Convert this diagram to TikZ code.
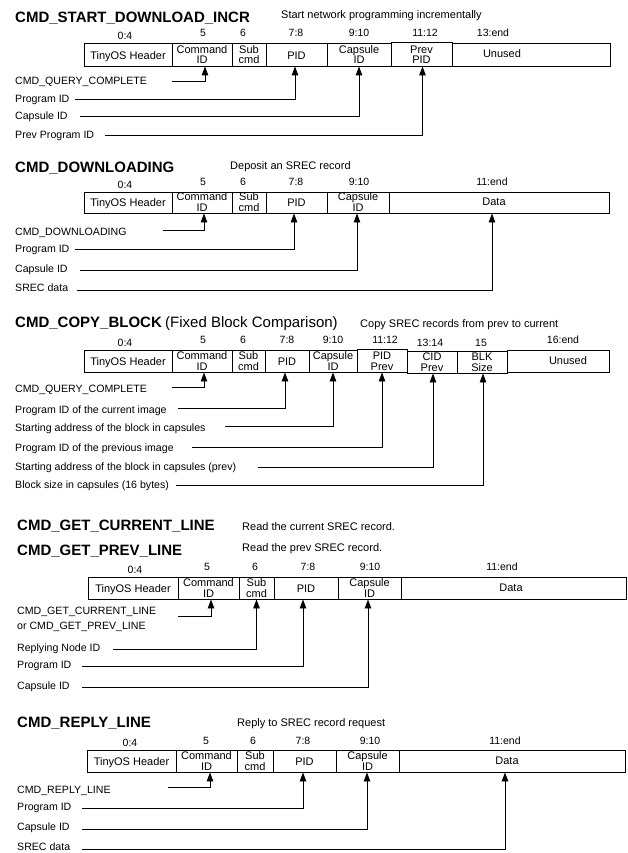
\documentclass[tikz,border=0pt]{standalone}
\usepackage{fontspec}
\setmainfont{Liberation Sans}
\usetikzlibrary{arrows.meta}
\tikzset{
  field/.style={draw, line width=0.9pt, inner sep=0pt, rectangle},
  ftext/.style={font=\fontsize{11}{12}\selectfont, inner sep=0pt},
  lbl/.style={font=\fontsize{10.6}{12}\selectfont, inner sep=0pt, anchor=base west},
  numlbl/.style={font=\fontsize{10.5}{12}\selectfont, inner sep=0pt, anchor=base},
  ttl/.style={font=\fontsize{15}{18}\selectfont\bfseries, inner sep=0pt, anchor=base west},
  subttl/.style={font=\fontsize{11}{12}\selectfont, inner sep=0pt, anchor=base west},
  paren/.style={font=\fontsize{15}{18}\selectfont, inner sep=0pt, anchor=base west},
  conn/.style={line width=0.9pt, -{Triangle[length=9pt,width=6.5pt]}},
}
% single-line field: name x1 x2 top bottom text
\newcommand\fldA[6]{%
  \node[field, minimum width={(#3-#2)*1pt}, minimum height={(#5-#4)*1pt}] (#1) at ({(#2+#3)/2},{(#4+#5)/2}) {};
  \node[ftext, anchor=base] (#1-t) at ({(#2+#3)/2},{#5-6.5}) {#6};}
% two-line field: name x1 x2 top bottom line1 line2
\newcommand\fldB[7]{%
  \node[field, minimum width={(#3-#2)*1pt}, minimum height={(#5-#4)*1pt}] (#1) at ({(#2+#3)/2},{(#4+#5)/2}) {};
  \node[ftext, anchor=base] (#1-a) at ({(#2+#3)/2},{#5-12.5}) {#6};
  \node[ftext, anchor=base] (#1-b) at ({(#2+#3)/2},{#5-2}) {#7};}
% field with text at given x: name x1 x2 top bottom textx text
\newcommand\fldX[7]{%
  \node[field, minimum width={(#3-#2)*1pt}, minimum height={(#5-#4)*1pt}] (#1) at ({(#2+#3)/2},{(#4+#5)/2}) {};
  \node[ftext, anchor=base] (#1-t) at (#6,{#5-8}) {#7};}
\begin{document}
\begin{tikzpicture}[x=1pt,y=-1pt]
\useasboundingbox (0,0) rectangle (627,853);

% ---------------- Section 1 ----------------
\node[ttl] (s1title) at (15,23) {CMD\_START\_DOWNLOAD\_INCR};
\node[subttl] (s1desc) at (281,19) {Start network programming incrementally};
\node[numlbl] (s1n1) at (125,40) {0:4};
\node[numlbl] (s1n2) at (203,37) {5};
\node[numlbl] (s1n3) at (243,37) {6};
\node[numlbl] (s1n4) at (296,37) {7:8};
\node[numlbl] (s1n5) at (359,37) {9:10};
\node[numlbl] (s1n6) at (425,37) {11:12};
\node[numlbl] (s1n7) at (493,37) {13:end};
\fldA{s1hdr}{84}{172}{43}{66}{TinyOS Header}
\fldB{s1cmd}{172}{232}{43}{66}{Command}{ID}
\fldB{s1sub}{232}{266}{43}{66}{Sub}{cmd}
\fldA{s1pid}{266}{327}{43}{66}{PID}
\fldB{s1cap}{327}{391}{43}{66}{Capsule}{ID}
\fldB{s1prv}{391}{452}{42}{66}{Prev}{PID}
\fldX{s1rst}{452}{610}{43}{66}{502}{Unused}
\node[lbl] (s1l1) at (15,85) {CMD\_QUERY\_COMPLETE};
\coordinate (s1c1) at (172,81);
\draw[conn] (s1c1) -| ([xshift=3pt]s1cmd.south);
\node[lbl] (s1l2) at (15,103) {Program ID};
\coordinate (s1c2) at (75,99.5);
\draw[conn] (s1c2) -| ([xshift=-1.5pt]s1pid.south);
\node[lbl] (s1l3) at (15,120) {Capsule ID};
\coordinate (s1c3) at (80,116);
\draw[conn] (s1c3) -| (s1cap.south);
\node[lbl] (s1l4) at (15,139) {Prev Program ID};
\coordinate (s1c4) at (105,135);
\draw[conn] (s1c4) -| ([xshift=1pt]s1prv.south);

% ---------------- Section 2 ----------------
\node[ttl] (s2title) at (15,172) {CMD\_DOWNLOADING};
\node[subttl] (s2desc) at (230,169) {Deposit an SREC record};
\node[numlbl] (s2n1) at (125,188.5) {0:4};
\node[numlbl] (s2n2) at (203,185.5) {5};
\node[numlbl] (s2n3) at (243,185.5) {6};
\node[numlbl] (s2n4) at (296,185.5) {7:8};
\node[numlbl] (s2n5) at (359,185.5) {9:10};
\node[numlbl] (s2n6) at (492,185.5) {11:end};
\fldA{s2hdr}{84}{172}{192}{213}{TinyOS Header}
\fldB{s2cmd}{172}{232}{192}{213}{Command}{ID}
\fldB{s2sub}{232}{266}{192}{213}{Sub}{cmd}
\fldA{s2pid}{266}{327}{192}{213}{PID}
\fldB{s2cap}{327}{389}{192}{213}{Capsule}{ID}
\fldX{s2dat}{389}{609}{192}{213}{494}{Data}
\node[lbl] (s2l1) at (15,235) {CMD\_DOWNLOADING};
\coordinate (s2c1) at (163,230);
\draw[conn] (s2c1) -| ([xshift=2pt]s2cmd.south);
\node[lbl] (s2l2) at (15,252.5) {Program ID};
\coordinate (s2c2) at (75,249);
\draw[conn] (s2c2) -| ([xshift=-2.5pt]s2pid.south);
\node[lbl] (s2l3) at (15,272.5) {Capsule ID};
\coordinate (s2c3) at (80,270.5);
\draw[conn] (s2c3) -| ([xshift=-1pt]s2cap.south);
\node[lbl] (s2l4) at (15,291.5) {SREC data};
\coordinate (s2c4) at (77,290);
\draw[conn] (s2c4) -| ([xshift=-7pt]s2dat.south);

% ---------------- Section 3 ----------------
\node[ttl] (s3title) at (15,327) {CMD\_COPY\_BLOCK};
\node[paren] (s3par) at (165,327) {(Fixed Block Comparison)};
\node[subttl] (s3desc) at (360,327) {Copy SREC records from prev to current};
\node[numlbl] (s3n1) at (125,346) {0:4};
\node[numlbl] (s3n2) at (203,343) {5};
\node[numlbl] (s3n3) at (243,343) {6};
\node[numlbl] (s3n4) at (287,343) {7:8};
\node[numlbl] (s3n5) at (333,343) {9:10};
\node[numlbl] (s3n6) at (385,343) {11:12};
\node[numlbl] (s3n7) at (430,346) {13:14};
\node[numlbl] (s3n8) at (481,346) {15};
\node[numlbl] (s3n9) at (563,343) {16:end};
\fldA{s3hdr}{84}{172}{350}{372}{TinyOS Header}
\fldB{s3cmd}{172}{232}{350}{372}{Command}{ID}
\fldB{s3sub}{232}{265}{350}{372}{Sub}{cmd}
\fldA{s3pid}{265}{309}{350}{372}{PID}
\fldB{s3cap}{309}{357}{350}{372}{Capsule}{ID}
\fldB{s3pidp}{357}{407}{349}{372}{PID}{Prev}
\fldB{s3cidp}{407}{457}{351}{373}{CID}{Prev}
\fldB{s3blk}{457}{507}{351}{373}{BLK}{Size}
\fldX{s3rst}{507}{609}{350}{372}{568}{Unused}
\node[lbl] (s3l1) at (15,392.5) {CMD\_QUERY\_COMPLETE};
\coordinate (s3c1) at (172,387.5);
\draw[conn] (s3c1) -| ([xshift=2pt]s3cmd.south);
\node[lbl] (s3l2) at (15,413) {Program ID of the current image};
\coordinate (s3c2) at (178,408);
\draw[conn] (s3c2) -| ([xshift=-2pt]s3pid.south);
\node[lbl] (s3l3) at (15,431.5) {Starting address of the block in capsules};
\coordinate (s3c3) at (225,426.5);
\draw[conn] (s3c3) -| (s3cap.south);
\node[lbl] (s3l4) at (15,451.5) {Program ID of the previous image};
\coordinate (s3c4) at (192,447);
\draw[conn] (s3c4) -| (s3pidp.south);
\node[lbl] (s3l5) at (15,470.5) {Starting address of the block in capsules (prev)};
\coordinate (s3c5) at (258,467);
\draw[conn] (s3c5) -| ([xshift=1pt]s3cidp.south);
\node[lbl] (s3l6) at (15,488.5) {Block size in capsules (16 bytes)};
\coordinate (s3c6) at (176,485);
\draw[conn] (s3c6) -| ([xshift=1pt]s3blk.south);

% ---------------- Section 4 ----------------
\node[ttl] (s4title1) at (17,530) {CMD\_GET\_CURRENT\_LINE};
\node[ttl] (s4title2) at (17,555.5) {CMD\_GET\_PREV\_LINE};
\node[subttl] (s4desc1) at (242,530.5) {Read the current SREC record.};
\node[subttl] (s4desc2) at (242,551.5) {Read the prev SREC record.};
\node[numlbl] (s4n1) at (135,573.5) {0:4};
\node[numlbl] (s4n2) at (207,570.5) {5};
\node[numlbl] (s4n3) at (255,570.5) {6};
\node[numlbl] (s4n4) at (308,570.5) {7:8};
\node[numlbl] (s4n5) at (370,570.5) {9:10};
\node[numlbl] (s4n6) at (502,570) {11:end};
\fldA{s4hdr}{88}{178}{577}{599}{TinyOS Header}
\fldB{s4cmd}{178}{239}{577}{599}{Command}{ID}
\fldB{s4sub}{239}{274}{577}{599}{Sub}{cmd}
\fldA{s4pid}{274}{338}{577}{599}{PID}
\fldB{s4cap}{338}{401}{577}{599}{Capsule}{ID}
\fldX{s4dat}{401}{626}{577}{599}{511}{Data}
\node[lbl] (s4l1a) at (17,614) {CMD\_GET\_CURRENT\_LINE};
\node[lbl] (s4l1b) at (17,629.3) {or CMD\_GET\_PREV\_LINE};
\coordinate (s4c1) at (178,616);
\draw[conn] (s4c1) -| ([xshift=2.5pt]s4cmd.south);
\node[lbl] (s4l2) at (17,651) {Replying Node ID};
\coordinate (s4c2) at (113,649);
\draw[conn] (s4c2) -| (s4sub.south);
\node[lbl] (s4l3) at (17,668.5) {Program ID};
\coordinate (s4c3) at (82,666);
\draw[conn] (s4c3) -| ([xshift=-3pt]s4pid.south);
\node[lbl] (s4l4) at (17,689) {Capsule ID};
\coordinate (s4c4) at (82,687);
\draw[conn] (s4c4) -| ([xshift=-1.5pt]s4cap.south);

% ---------------- Section 5 ----------------
\node[ttl] (s5title) at (17,727) {CMD\_REPLY\_LINE};
\node[subttl] (s5desc) at (237,726) {Reply to SREC record request};
\node[numlbl] (s5n1) at (130,746.5) {0:4};
\node[numlbl] (s5n2) at (206,744) {5};
\node[numlbl] (s5n3) at (253,744) {6};
\node[numlbl] (s5n4) at (303,744) {7:8};
\node[numlbl] (s5n5) at (370,744) {9:10};
\node[numlbl] (s5n6) at (505,744) {11:end};
\fldA{s5hdr}{87}{176}{750}{772}{TinyOS Header}
\fldB{s5cmd}{176}{237}{750}{772}{Command}{ID}
\fldB{s5sub}{237}{273}{750}{772}{Sub}{cmd}
\fldA{s5pid}{273}{336}{750}{772}{PID}
\fldB{s5cap}{336}{399}{750}{772}{Capsule}{ID}
\fldX{s5dat}{399}{625}{750}{772}{507}{Data}
\node[lbl] (s5l1) at (17,793) {CMD\_REPLY\_LINE};
\coordinate (s5c1) at (168,787.5);
\draw[conn] (s5c1) -| ([xshift=3.5pt]s5cmd.south);
\node[lbl] (s5l2) at (17,810) {Program ID};
\coordinate (s5c2) at (82,808.3);
\draw[conn] (s5c2) -| ([xshift=-1.5pt]s5pid.south);
\node[lbl] (s5l3) at (17,830.5) {Capsule ID};
\coordinate (s5c3) at (82,829.3);
\draw[conn] (s5c3) -| ([xshift=-0.5pt]s5cap.south);
\node[lbl] (s5l4) at (17,850) {SREC data};
\coordinate (s5c4) at (82,849.3);
\draw[conn] (s5c4) -| ([xshift=-7pt]s5dat.south);
\end{tikzpicture}
\end{document}
